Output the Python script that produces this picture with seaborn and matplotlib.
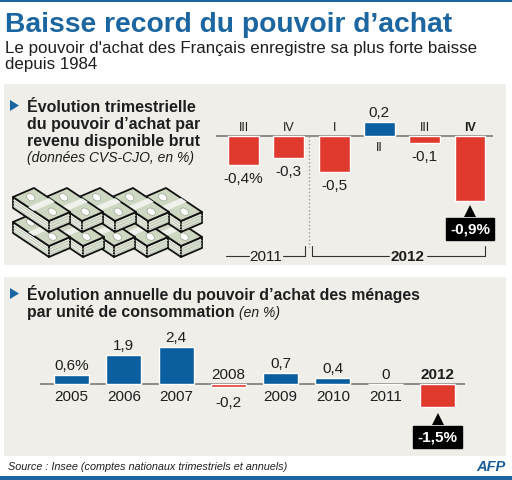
import matplotlib
matplotlib.use("Agg")
import matplotlib.pyplot as plt
import matplotlib.transforms as mtransforms
from matplotlib.patches import Polygon, Ellipse, Rectangle
import numpy as np
import pandas as pd
import seaborn as sns

# Quarterly change in purchasing power (%)
quarters = ["III", "IV", "I", "II", "III", "IV"]
quarter_years = ["2011", "2011", "2012", "2012", "2012", "2012"]
quarter_values = [-0.4, -0.3, -0.5, 0.2, -0.1, -0.9]

# Annual change per consumption unit (%)
years = ["2005", "2006", "2007", "2008", "2009", "2010", "2011", "2012"]
annual_values = [0.6, 1.9, 2.4, -0.2, 0.7, 0.4, 0.0, -1.5]

BLUE = "#0b5f9f"
RED = "#e03a2f"
TITLE_BLUE = "#1b66a0"
PANEL = "#efeee8"
INK = "#1e1e1e"

sns.set_style("white")
plt.rcParams["font.family"] = ["Liberation Sans", "DejaVu Sans"]

W, H = 512, 481
fig = plt.figure(figsize=(W / 100, H / 100), dpi=100)


def px_axes(left, top, right, bottom):
    return fig.add_axes([left / W, 1 - bottom / H, (right - left) / W, (bottom - top) / H])


def fmt(v):
    return "0" if v == 0 else f"{v:.1f}".replace(".", ",")


# background layer in pixel coordinates
bg = fig.add_axes([0, 0, 1, 1])
bg.set_xlim(0, W)
bg.set_ylim(H, 0)
bg.axis("off")
bg.add_patch(Rectangle((0, 0), W, 3, color=TITLE_BLUE, lw=0))
bg.add_patch(Rectangle((0, 477), W, 4, color=TITLE_BLUE, lw=0))
bg.add_patch(Rectangle((4, 85), 502, 181, color=PANEL, lw=0))
bg.add_patch(Rectangle((4, 278), 502, 179, color=PANEL, lw=0))

bg.text(5, 32, "Baisse record du pouvoir d’achat", fontsize=20.3, fontweight="bold",
        color=TITLE_BLUE, va="baseline")
bg.text(5, 53, "Le pouvoir d'achat des Français enregistre sa plus forte baisse",
        fontsize=12.2, color=INK, va="baseline")
bg.text(5, 69, "depuis 1984", fontsize=12.2, color=INK, va="baseline")

# panel headings
bg.add_patch(Polygon([(10, 101), (10, 112), (19, 106.5)], color=TITLE_BLUE, lw=0))
for txt, yb in zip(["Évolution trimestrielle", "du pouvoir d’achat par",
                    "revenu disponible brut"], [112, 129.5, 146.5]):
    bg.text(27, yb, txt, fontsize=11.5, fontweight="bold", color=INK, va="baseline")
bg.text(27, 162.5, "(données CVS-CJO, en %)", fontsize=10, style="italic", color=INK,
        va="baseline")

bg.add_patch(Polygon([(10, 289), (10, 300), (19, 294.5)], color=TITLE_BLUE, lw=0))
bg.text(27, 300, "Évolution annuelle du pouvoir d’achat des ménages", fontsize=11.4,
        fontweight="bold", color=INK, va="baseline")
t2 = bg.text(27, 317, "par unité de consommation", fontsize=11.4, fontweight="bold",
             color=INK, va="baseline")
renderer = fig.canvas.get_renderer()
x_end = t2.get_window_extent(renderer).x1
bg.text(x_end + 4, 317, "(en %)", fontsize=10, style="italic", color=INK, va="baseline")

bg.text(8, 470, "Source : Insee (comptes nationaux trimestriels et annuels)", fontsize=7.8,
        style="italic", color=INK, va="baseline")
bg.text(506, 471, "AFP", fontsize=10.5, fontweight="heavy", style="italic", color="#1a5c98",
        ha="right", va="baseline")


# stacks of banknotes (decoration)
def draw_stack(x0, y0, h=11):
    L = np.array([x0, y0 + 9.0])
    T = np.array([x0 + 21.0, y0])
    R = np.array([x0 + 57.0, y0 + 24.0])
    B = np.array([x0 + 36.0, y0 + 33.0])
    d = np.array([0, h])
    edge = dict(ec="#111111", lw=1.3, joinstyle="round", zorder=3)
    bg.add_patch(Polygon([L, B, B + d, L + d], fc="#e9eee4", **edge))
    bg.add_patch(Polygon([B, R, R + d, B + d], fc="#dbe2d3", **edge))
    for f in (0.3, 0.55, 0.8):
        bg.plot([L[0], B[0]], [L[1] + f * h, B[1] + f * h], color="#b5bfac", lw=0.5, zorder=3)
        bg.plot([B[0], R[0]], [B[1] + f * h, R[1] + f * h], color="#b5bfac", lw=0.5, zorder=3)
    bg.add_patch(Polygon([L, T, R, B], fc="#cdd7c2", **edge))
    # light band across the middle of the bill
    u = (R - T)
    band = [T + 0.42 * u, T + 0.58 * u, L + 0.58 * u, L + 0.42 * u]
    bg.add_patch(Polygon(band, fc="#eef2ea", lw=0, zorder=3))
    c = (L + T + R + B) / 4
    for s in (-0.3, 0.3):
        p = c + s * u
        bg.add_patch(Ellipse(p, 9, 6.5, angle=33, fc="white", ec="#9aa592", lw=0.5, zorder=3))


for x0 in [145, 111, 78, 47, 13]:
    draw_stack(x0, 214)
for x0 in [145, 112, 79, 46, 13]:
    draw_stack(x0, 189)

# ---------- quarterly chart ----------
qdf = pd.DataFrame({
    "key": [f"{q} {y}" for q, y in zip(quarters, quarter_years)],
    "value": quarter_values,
    "sign": ["pos" if v >= 0 else "neg" for v in quarter_values],
})
ax1 = px_axes(216, 92, 493, 264)
sns.barplot(data=qdf, x="key", y="value", hue="sign", palette={"pos": BLUE, "neg": RED},
            dodge=False, legend=False, width=0.68, saturation=1, ax=ax1)
ax1.set_xlim(-(243.5 - 216) / 45.3, 5 + (493 - 470) / 45.3)
ax1.set_ylim(-(264 - 137) / 72, (137 - 92) / 72)
ax1.axis("off")
ax1.axhline(0, color="#8c8c8c", lw=1.4, zorder=0)


def label(ax, x, y, text, dy, **kw):
    ax.annotate(text, xy=(x, y), xytext=(0, dy), textcoords="offset pixels",
                ha="center", va="center", color=INK, annotation_clip=False, **kw)


def callout(ax, x, v, text, tri_off, gap, ms):
    tri = mtransforms.offset_copy(ax.transData, fig=fig, x=0, y=-tri_off, units="dots")
    ax.plot([x], [v], marker="^", ms=ms, mew=0, color="black", transform=tri, clip_on=False)
    ax.annotate(text, xy=(x, v), xytext=(0, -gap), textcoords="offset pixels", ha="center",
                va="center", color="white", fontweight="bold", fontsize=11,
                bbox=dict(boxstyle="square,pad=0.28", fc="black", ec="black"),
                annotation_clip=False)


n = len(quarter_values)
for i, (q, v) in enumerate(zip(quarters, quarter_values)):
    last = i == n - 1
    txt = fmt(v) + ("%" if i == 0 else "")
    qw = "bold" if last else "normal"
    if v >= 0:
        label(ax1, i, v, txt, 10, fontsize=11)
        label(ax1, i, 0, q, -11, fontsize=9, fontweight=qw)
    else:
        label(ax1, i, 0, q, 9, fontsize=9, fontweight=qw)
        if last:
            callout(ax1, i, v, txt + "%", 10.5, 28, 8)
        else:
            label(ax1, i, v, txt, -13, fontsize=11)

blend1 = mtransforms.blended_transform_factory(ax1.transData, bg.transData)
ax1.plot([1.44, 1.44], [137, 248], transform=blend1, color="#9a9a9a", ls=":", lw=1,
         clip_on=False)
ax1.plot([-0.39, 0.13], [257, 257], transform=blend1, color="#333333", lw=0.8, clip_on=False)
ax1.plot([0.87, 1.36, 1.36], [257, 257, 247], transform=blend1, color="#333333", lw=0.8,
         clip_on=False)
ax1.text(0.5, 257, "2011", transform=blend1, ha="center", va="center", fontsize=11, color=INK)
ax1.plot([1.52, 1.52, 3.22], [247, 257, 257], transform=blend1, color="#333333", lw=0.8,
         clip_on=False)
ax1.plot([4.05, 5.33, 5.33], [257, 257, 247], transform=blend1, color="#333333", lw=0.8,
         clip_on=False)
ax1.text(3.62, 257, "2012", transform=blend1, ha="center", va="center", fontsize=11,
         fontweight="bold", color=INK)

# ---------- annual chart ----------
adf = pd.DataFrame({
    "year": years,
    "value": annual_values,
    "sign": ["pos" if v >= 0 else "neg" for v in annual_values],
})
ax2 = px_axes(40, 325, 465, 456)
sns.barplot(data=adf, x="year", y="value", hue="sign", palette={"pos": BLUE, "neg": RED},
            dodge=False, legend=False, width=0.67, saturation=1, ax=ax2)
ax2.set_xlim(-(71.5 - 40) / 52.3, 7 + (465 - 437.5) / 52.3)
ax2.set_ylim(-(456 - 385) / 15.3, (385 - 325) / 15.3)
ax2.axis("off")
ax2.axhline(0, color="#8c8c8c", lw=1.4, zorder=0)

m = len(annual_values)
for i, (yr, v) in enumerate(zip(years, annual_values)):
    last = i == m - 1
    txt = fmt(v) + ("%" if i == 0 else "")
    if v >= 0:
        label(ax2, i, v, txt, 10, fontsize=11)
        label(ax2, i, 0, yr, -12, fontsize=11)
    else:
        label(ax2, i, 0, yr, 10, fontsize=11, fontweight="bold" if last else "normal")
        if last:
            callout(ax2, i, v, txt + "%", 12, 30, 9)
        else:
            label(ax2, i, v, txt, -15, fontsize=11)

fig.savefig("out.png", dpi=100)
